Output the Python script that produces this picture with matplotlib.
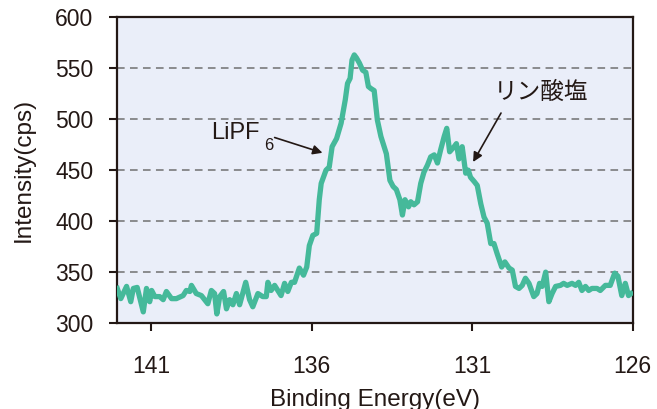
import matplotlib.pyplot as plt

plt.rcParams['font.family'] = ['Liberation Sans', 'Noto Sans CJK JP', 'DejaVu Sans']
plt.rcParams['mathtext.default'] = 'regular'

# P2p spectrum
energy = [142.05, 141.94, 141.76, 141.63, 141.55, 141.43, 141.24, 141.14, 141.04, 140.98,
          140.88, 140.73, 140.62, 140.52, 140.36, 140.21, 140.00, 139.90, 139.79, 139.74,
          139.59, 139.43, 139.23, 139.12, 139.02, 138.95, 138.86, 138.74, 138.65, 138.55,
          138.45, 138.34, 138.24, 138.05, 137.93, 137.83, 137.67, 137.52, 137.41, 137.36,
          137.26, 137.15, 137.05, 136.95, 136.84, 136.74, 136.63, 136.53, 136.38, 136.25,
          136.15, 136.07, 135.96, 135.84, 135.76, 135.70, 135.55, 135.45, 135.36, 135.22,
          135.08, 134.95, 134.88, 134.80, 134.74, 134.67, 134.60, 134.51, 134.41, 134.31,
          134.23, 134.15, 134.05, 133.95, 133.84, 133.74, 133.67, 133.56, 133.46, 133.36,
          133.25, 133.17, 133.09, 132.98, 132.91, 132.81, 132.70, 132.60, 132.50, 132.39,
          132.29, 132.18, 132.08, 131.98, 131.87, 131.79, 131.70, 131.56, 131.49, 131.41,
          131.31, 131.20, 131.12, 131.05, 130.94, 130.84, 130.73, 130.63, 130.53, 130.42,
          130.32, 130.22, 130.08, 129.98, 129.85, 129.75, 129.65, 129.54, 129.44, 129.34,
          129.23, 129.08, 128.98, 128.90, 128.82, 128.71, 128.61, 128.51, 128.40, 128.25,
          128.15, 128.04, 127.89, 127.78, 127.68, 127.58, 127.47, 127.37, 127.27, 127.11,
          127.01, 126.85, 126.70, 126.56, 126.46, 126.34, 126.23, 126.13, 126.05]
intensity = [334, 324, 336, 321, 334, 335, 311, 334, 321, 332,
             326, 326, 323, 331, 324, 324, 327, 332, 331, 337,
             329, 327, 319, 332, 329, 309, 326, 331, 314, 323,
             318, 329, 318, 340, 323, 316, 329, 326, 326, 340,
             332, 337, 332, 327, 339, 331, 340, 340, 354, 347,
             355, 376, 386, 388, 421, 437, 450, 453, 473, 481,
             496, 519, 535, 540, 558, 563, 560, 555, 548, 546,
             532, 530, 528, 499, 483, 473, 466, 440, 434, 431,
             421, 406, 421, 414, 419, 416, 419, 437, 448, 455,
             463, 465, 457, 470, 483, 491, 468, 473, 476, 461,
             473, 447, 450, 443, 439, 435, 417, 404, 398, 378,
             378, 368, 355, 360, 354, 352, 336, 334, 337, 344,
             339, 326, 329, 339, 336, 350, 321, 329, 336, 337,
             339, 337, 339, 337, 340, 332, 336, 332, 334, 334,
             332, 337, 337, 349, 346, 327, 339, 327, 329]

xticks = [141, 136, 131, 126]
yticks = [300, 350, 400, 450, 500, 550, 600]
grid_levels = [350, 400, 450, 500, 550]

fig = plt.figure(figsize=(6.57, 4.09), dpi=100)
ax = fig.add_axes([0.178, 0.21, 0.785, 0.748])
ax.set_facecolor('#eaeef9')

for g in grid_levels:
    ax.axhline(g, color='#707070', lw=1.1, ls=(0, (5, 3.5)), zorder=1)

ax.plot(energy, intensity, color='#45b99a', lw=3.8, zorder=3)

ax.set_xlim(142.06, 126)
ax.set_ylim(300, 600)
ax.set_xticks(xticks)
ax.set_yticks(yticks)
ax.tick_params(axis='x', direction='out', length=6, width=1.5, pad=17, labelsize=16.5, colors='#231815')
ax.tick_params(axis='y', direction='out', length=6, width=1.5, pad=11, labelsize=16.5, colors='#231815')
for s in ax.spines.values():
    s.set_linewidth(1.6)
    s.set_color('#231815')

ax.set_xlabel('Binding Energy(eV)', fontsize=17.5, color='#231815', labelpad=8)
ax.set_ylabel('Intensity(cps)', fontsize=17.5, color='#231815', labelpad=15)

# labels and arrows
ax.text(139.14, 486, 'LiPF', fontsize=17, ha='left', va='center', color='#231815')
ax.text(137.48, 474, '6', fontsize=12, ha='left', va='center', color='#231815')
ax.annotate('', xy=(135.66, 467), xytext=(137.15, 482),
            arrowprops=dict(arrowstyle='-|>', color='#231815', lw=1.2,
                            mutation_scale=14, shrinkA=0, shrinkB=0))
ax.annotate('', xy=(130.97, 458), xytext=(130.10, 506),
            arrowprops=dict(arrowstyle='-|>', color='#231815', lw=1.2,
                            mutation_scale=14, shrinkA=0, shrinkB=0))
ax.text(130.32, 526, 'リン酸塩', fontsize=17, ha='left', va='center', color='#231815',
        family=['Noto Sans CJK JP', 'DejaVu Sans'])

fig.savefig('out.png', dpi=100)
